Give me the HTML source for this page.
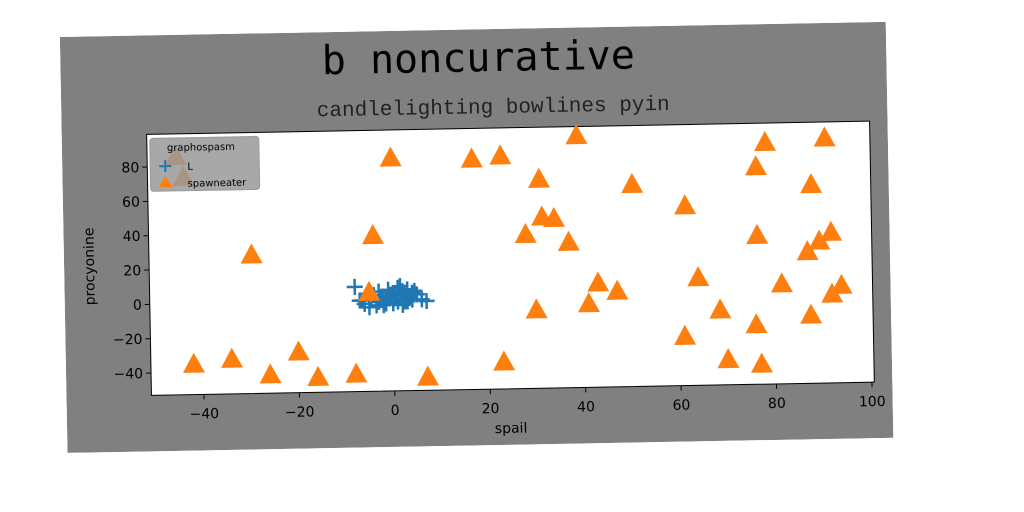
<!DOCTYPE html>
<html><head><meta charset="utf-8"><style>
html,body{margin:0;padding:0;background:#fff;width:1024px;height:512px;overflow:hidden}
#fig{position:absolute;left:60px;top:37px;width:826px;height:416px;transform:rotate(-1.05deg);transform-origin:0 7px}
text{font-family:"DejaVu Sans","Liberation Sans",sans-serif}
</style></head><body>
<div id="fig">
<svg id="svg" width="826" height="416" xmlns="http://www.w3.org/2000/svg">
<rect width="826" height="416" fill="#808080"/>
<text x="418" y="42" text-anchor="middle" font-size="40" style="font-family:'DejaVu Sans Mono','Liberation Mono',monospace" fill="#000">b noncurative</text>
<text x="432" y="84" text-anchor="middle" font-size="21" style="font-family:'Liberation Mono',monospace" fill="#222">candlelighting bowlines pyin</text>
<rect x="85" y="99" width="723" height="261" fill="#fff" stroke="#000" stroke-width="1"/>
<g id="ticks"></g>
<g id="marks"></g>
<text x="444" y="404" text-anchor="middle" font-size="14" fill="#000">spail</text>
<text transform="translate(30,230) rotate(-90)" text-anchor="middle" font-size="14" fill="#000">procyonine</text>
<g>
<rect x="88" y="103" width="109" height="53" rx="3" fill="#999" fill-opacity="0.85" stroke="#999"/>
<text x="105" y="116" font-size="10" fill="#000">graphospasm</text>
<path d="M97 131 h12 M103 125 v12" stroke="#1f77b4" stroke-width="2"/>
<text x="125" y="135" font-size="10" fill="#000">L</text>
<path d="M96 152 l7 -11 l7 11 z" fill="#ff7f0e"/>
<text x="125" y="152" font-size="10" fill="#000">spawneater</text>
</g>
</svg></div>
<script>
const xTicks=[-40,-20,0,20,40,60,80,100];
const yTicks=[-40,-20,0,20,40,60,80];
const triX=[-42,-34,-29.5,-26,-20,-16,-8,-4,-5,0,7,17,23,23,28,30,31,31.5,34,37,39,41,43,47,50.5,61,61.5,64,68.5,70,76,76.5,76.5,77,78.5,81.5,87.5,87,88,89.5,91,92,92,94,-45,-43.5];
const triY=[-35,-32.5,28,-42,-29,-44,-42.5,38,5,83,-45,81.5,83,-37,37,-7,69,47,46,32,94,-4,8,3,65,-24,52,10,-9,-38,-18,74,34,-41,88,5.5,-13,24,63,30,90,35,-1,4,86,74];
const plusX=[-8,-7,-6,-5,-4,-3,-3,-2,-2,-1,-1,0,0,0,1,1,1,2,2,2,3,3,3,4,4,5,-2.5,-1.5,0.5,1.5,2.5,3.5,-0.5,6,7,-3.5,-6.5,4.5];
const plusY=[8,0,-2,-4,3,-1,5,2,-3,1,6,0,4,-2,3,-1,7,1,5,-3,2,6,-1,0,4,3,0,-2,1,8,-1,2,3,0,-1,-3,0,5];
const X0=85,W=723,Y0=99,H=261,xmin=-51,xmax=100.5,ymin=-53,ymax=99;
const sx=v=>X0+(v-xmin)/(xmax-xmin)*W;
const sy=v=>Y0+(ymax-v)/(ymax-ymin)*H;
const NS="http://www.w3.org/2000/svg";
const T=document.getElementById('ticks'),M=document.getElementById('marks');
function mk(tag,attrs,parent){const e=document.createElementNS(NS,tag);for(const k in attrs)e.setAttribute(k,attrs[k]);parent.appendChild(e);return e;}
xTicks.forEach(v=>{
 const l=mk('line',{x1:sx(v),x2:sx(v),y1:360,y2:365,stroke:'#000'},T);
 
 
 const t=mk('text',{x:sx(v),y:384,'text-anchor':'middle','font-size':14,fill:'#000'},T);
 t.textContent=v<0?'\u2212'+(-v):v;
 
 
});
yTicks.forEach(v=>{
 const l=mk('line',{x1:80,x2:85,y1:sy(v),y2:sy(v),stroke:'#000'},T);
 
 
 const t=mk('text',{x:77,y:sy(v)+5,'text-anchor':'end','font-size':14,fill:'#000'},T);
 t.textContent=v<0?'\u2212'+(-v):v;
 
 
});
plusX.forEach((v,i)=>{
 const x=sx(v),y=sy(plusY[i]);
 const p=mk('path',{d:`M${x-8} ${y} h16 M${x} ${y-8} v16`,stroke:'#1f77b4','stroke-width':2.5,fill:'none'},M);
 
 
});
triX.forEach((v,i)=>{
 const x=sx(v),y=sy(triY[i]);
 const p=mk('path',{d:`M${x-11} ${y+9} L${x} ${y-11} L${x+11} ${y+9} Z`,fill:'#ff7f0e'},M);
 
 
});
</script>
</body></html>
